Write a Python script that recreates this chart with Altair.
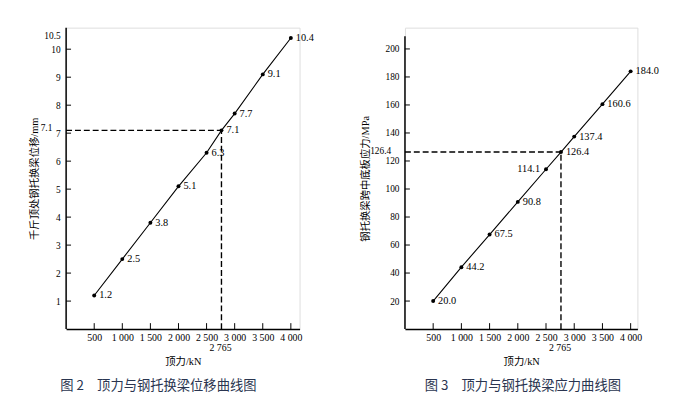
import altair as alt
import pandas as pd

# ---- data ----
force = [500, 1000, 1500, 2000, 2500, 2765, 3000, 3500, 4000]
disp = [1.2, 2.5, 3.8, 5.1, 6.3, 7.1, 7.7, 9.1, 10.4]
disp_labels = ["1.2", "2.5", "3.8", "5.1", "6.3", "7.1", "7.7", "9.1", "10.4"]
stress = [20.0, 44.2, 67.5, 90.8, 114.1, 126.4, 137.4, 160.6, 184.0]
stress_labels = ["20.0", "44.2", "67.5", "90.8", "114.1", "126.4", "137.4", "160.6", "184.0"]

x_ticks = [500, 1000, 1500, 2000, 2500, 3000, 3500, 4000]
disp_ticks = [1, 2, 3, 4, 5, 6, 7, 8, 9, 10]
disp_axis_labels = [1, 2, 3, 4, 5, 6, 7, 8, 9, 10, 10.5]
stress_ticks = [20, 40, 60, 80, 100, 120, 140, 160, 180, 200]

design_force = 2765
design_force_label = "2 765"
design_disp = 7.1
design_disp_label = "7.1"
design_stress = 126.4
design_stress_label = "126.4"

caption_left = "图 2\u3000顶力与钢托换梁位移曲线图"
caption_right = "图 3\u3000顶力与钢托换梁应力曲线图"
x_title = "顶力/kN"
y_title_left = "千斤顶处钢托换梁位移/mm"
y_title_right = "钢托换梁跨中底板应力/MPa"

FONT = "'Liberation Serif', 'Noto Sans CJK SC', serif"
H = 306


def panel(vals, labels, y_domain, axis_top, y_axis_vals, y_tick_vals, y_title,
          marker_val, marker_label, marker_dy, width, x_max, caption, caption_dx,
          left_label_forces, y_title_pad):
    df = pd.DataFrame({"force": force, "val": vals, "label": labels})
    xs = alt.Scale(domain=[0, x_max], nice=False, zero=True)
    ys = alt.Scale(domain=y_domain, nice=False, zero=True)

    xaxis = alt.Axis(values=x_ticks, ticks=False, domain=True, domainColor="black",
                     domainWidth=1.5, grid=False, labelFont=FONT, labelFontSize=10,
                     labelColor="black", labelPadding=4, labelOverlap=False,
                     labelFlush=False,
                     labelExpr="replace(format(datum.value, ','), ',', ' ')",
                     title=x_title, titleFont=FONT, titleFontSize=10.5,
                     titleFontWeight="normal", titleColor="black", titlePadding=14)
    yaxis = alt.Axis(values=y_axis_vals, ticks=False, domain=False, grid=False,
                     labelFont=FONT, labelFontSize=9.5, labelColor="black",
                     labelPadding=6, labelOverlap=False, labelFlush=False,
                     labelExpr="datum.value + ''",
                     title=y_title, titleFont=FONT, titleFontSize=10.5,
                     titleFontWeight="normal", titleColor="black",
                     titlePadding=y_title_pad)

    def X(f):
        return alt.X(f + ":Q", scale=xs, axis=xaxis)

    def Y(f):
        return alt.Y(f + ":Q", scale=ys, axis=yaxis)

    base = alt.Chart(df)
    line = base.mark_line(color="black", strokeWidth=1.1).encode(
        x=X("force"), y=Y("val"))
    pts = base.mark_circle(color="black", size=16, opacity=1).encode(
        x=X("force"), y=Y("val"))

    left_expr = "indexof(%s, datum.force) >= 0" % str(left_label_forces)
    txt_r = base.transform_filter("!(" + left_expr + ")").mark_text(
        align="left", baseline="middle", dx=5, font=FONT, fontSize=10.5,
        color="black").encode(x=X("force"), y=Y("val"), text="label:N")
    txt_l = base.transform_filter(left_expr).mark_text(
        align="right", baseline="middle", dx=-6, font=FONT, fontSize=10.5,
        color="black").encode(x=X("force"), y=Y("val"), text="label:N")

    hdf = pd.DataFrame({"x": [0], "x2": [design_force], "y": [marker_val]})
    hrule = alt.Chart(hdf).mark_rule(color="black", strokeWidth=1.4,
                                     strokeDash=[6, 3]).encode(
        x=X("x"), x2="x2:Q", y=Y("y"))
    vdf = pd.DataFrame({"x": [design_force], "y": [0], "y2": [marker_val]})
    vrule = alt.Chart(vdf).mark_rule(color="black", strokeWidth=1.4,
                                     strokeDash=[6, 3]).encode(
        x=X("x"), y=Y("y"), y2="y2:Q")

    mdf = pd.DataFrame({"y": [marker_val], "t": [marker_label]})
    mtxt = alt.Chart(mdf).mark_text(align="right", baseline="middle", dx=-14,
                                    dy=marker_dy, font=FONT, fontSize=9.5,
                                    color="black").encode(
        x=alt.value(0), y=Y("y"), text="t:N")
    fdf = pd.DataFrame({"x": [design_force], "t": [design_force_label]})
    ftxt = alt.Chart(fdf).mark_text(align="center", baseline="middle", dy=19,
                                    dx=-1, font=FONT, fontSize=10,
                                    color="black").encode(
        x=X("x"), y=alt.value(H), text="t:N")

    ytdf = pd.DataFrame({"v": y_tick_vals})
    yt = alt.Chart(ytdf).mark_rule(color="black", strokeWidth=1).encode(
        y=Y("v"), x=alt.value(0), x2=alt.value(5))
    xtdf = pd.DataFrame({"v": x_ticks})
    xt = alt.Chart(xtdf).mark_rule(color="black", strokeWidth=1).encode(
        x=X("v"), y=alt.value(H), y2=alt.value(H - 6))
    adf = pd.DataFrame({"a": [0], "b": [axis_top]})
    yline = alt.Chart(adf).mark_rule(color="black", strokeWidth=1.5).encode(
        x=alt.value(0), y=Y("a"), y2="b:Q")

    return alt.layer(line, yline, yt, xt, hrule, vrule, pts, txt_r, txt_l,
                     mtxt, ftxt).properties(
        width=width, height=H,
        title=alt.TitleParams(text=caption, orient="bottom", anchor="start",
                              frame="group", dx=caption_dx, offset=12,
                              font="Noto Sans CJK SC", fontSize=13.5,
                              fontWeight="normal", color="#2a3550"))


left = panel(disp, disp_labels, [0, 10.77], 10.77, disp_axis_labels, disp_ticks,
             y_title_left, design_disp, design_disp_label, -2, 237, 4155,
             caption_left, -6, [], 4)
right = panel(stress, stress_labels, [0, 215.2], 209, stress_ticks, stress_ticks,
              y_title_right, design_stress, design_stress_label, -1, 236, 4120,
              caption_right, 20, [2500], 15)

chart = alt.hconcat(left, right, spacing=45).properties(
    padding={"left": 21, "top": 15, "right": 5, "bottom": 0}
).configure_view(stroke=None).configure_axis(labelOverlap=False).configure(
    background="white")

chart.save("out.html", embed_options={"renderer": "svg", "actions": False})
